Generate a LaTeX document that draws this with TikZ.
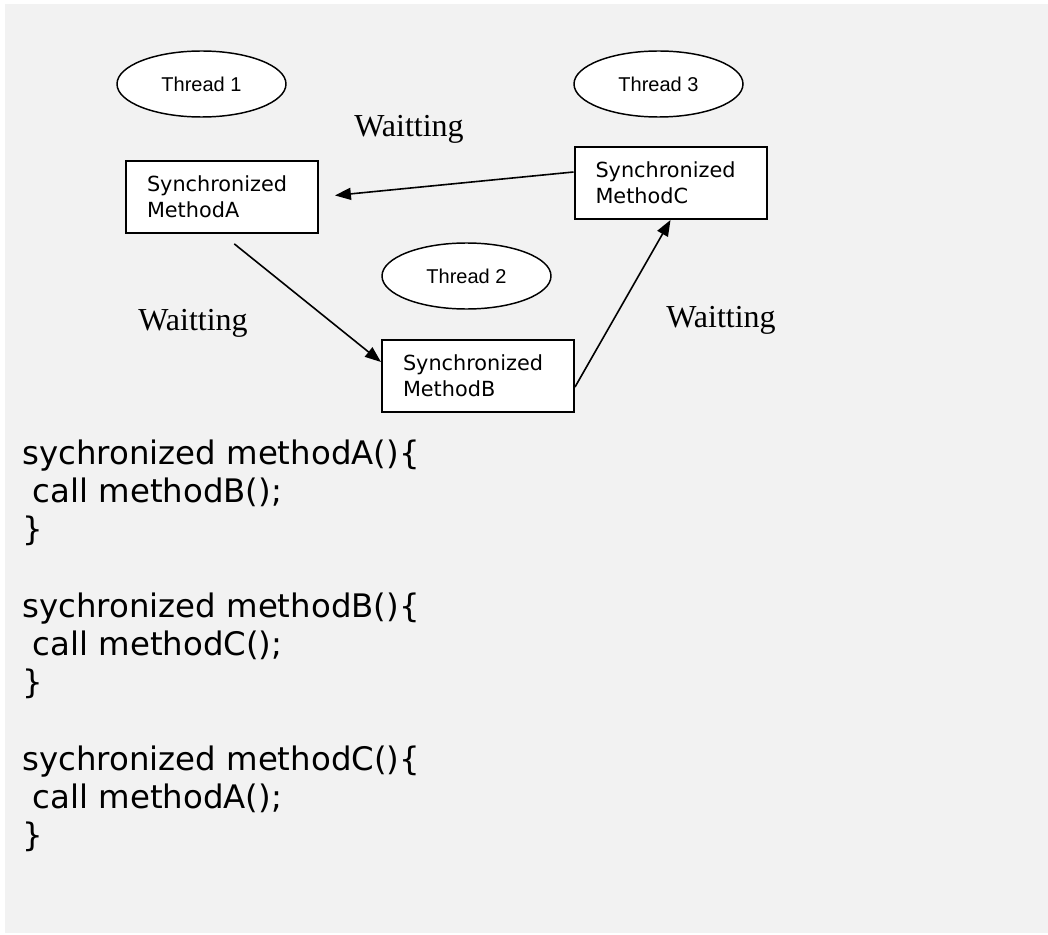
\documentclass[tikz,border=0pt]{standalone}
\usepackage{fontspec}
\usetikzlibrary{shapes.geometric,arrows.meta}
\newfontfamily\arialf{Liberation Sans}
\newfontfamily\verdf{DejaVu Sans}
\newfontfamily\timesf{Liberation Serif}
\definecolor{bggray}{HTML}{F2F2F2}
\begin{document}
\begin{tikzpicture}[x=0.75pt,y=-0.75pt,
 thread/.style={ellipse,draw,line width=1.1pt,fill=white,minimum width=126.75pt,minimum height=49.5pt,inner sep=0pt,font=\arialf\fontsize{15}{18}\selectfont},
 mbox/.style={rectangle,draw,line width=1.5pt,fill=white,minimum width=144pt,minimum height=54pt,inner xsep=15.75pt,text width=112.5pt,align=left,font=\verdf\fontsize{15.6}{19.5}\selectfont},
 wait/.style={anchor=base west,inner sep=0pt,font=\timesf\fontsize{24}{28}\selectfont},
 code/.style={anchor=base west,inner sep=0pt,font=\verdf\fontsize{24.3}{28}\selectfont},
 conn/.style={line width=1.2pt,-{Triangle[length=12pt,width=9pt]}}]
\useasboundingbox (0,0) rectangle (1048,934);
\fill[bggray] (5,4) rectangle (1048,933);
% threads
\node[thread] (t1) at (201.5,84) {Thread 1};
\node[thread] (t3) at (658.5,84) {Thread 3};
\node[thread] (t2) at (466.5,276) {Thread 2};
% method boxes
\node[mbox] (A) at (222,197) {Synchronized\\MethodA};
\node[mbox] (C) at (670.5,183) {Synchronized\\MethodC};
\node[mbox] (B) at (478,376) {Synchronized\\MethodB};
% waiting labels
\node[wait] (w1) at (354,137) {Waitting};
\node[wait] (w2) at (138,330) {Waitting};
\node[wait] (w3) at (666,327) {Waitting};
% connectors
\draw[conn,shorten >=12pt] ([yshift=8.25pt]C.west) -- (A.east);
\draw[conn,shorten <=11.8pt] (A.south) -- ([yshift=10.5pt]B.west);
\draw[conn] ([yshift=-8.25pt]B.east) -- (C.south);
% code
\node[code] (c1) at (22,464) {sychronized methodA()\{};
\node[code] (c2) at (22,502.25) {\ call methodB();};
\node[code] (c3) at (22,540.5) {\}};
\node[code] (c4) at (22,617) {sychronized methodB()\{};
\node[code] (c5) at (22,655.25) {\ call methodC();};
\node[code] (c6) at (22,693.5) {\}};
\node[code] (c7) at (22,770) {sychronized methodC()\{};
\node[code] (c8) at (22,808.25) {\ call methodA();};
\node[code] (c9) at (22,846.5) {\}};
\end{tikzpicture}
\end{document}
